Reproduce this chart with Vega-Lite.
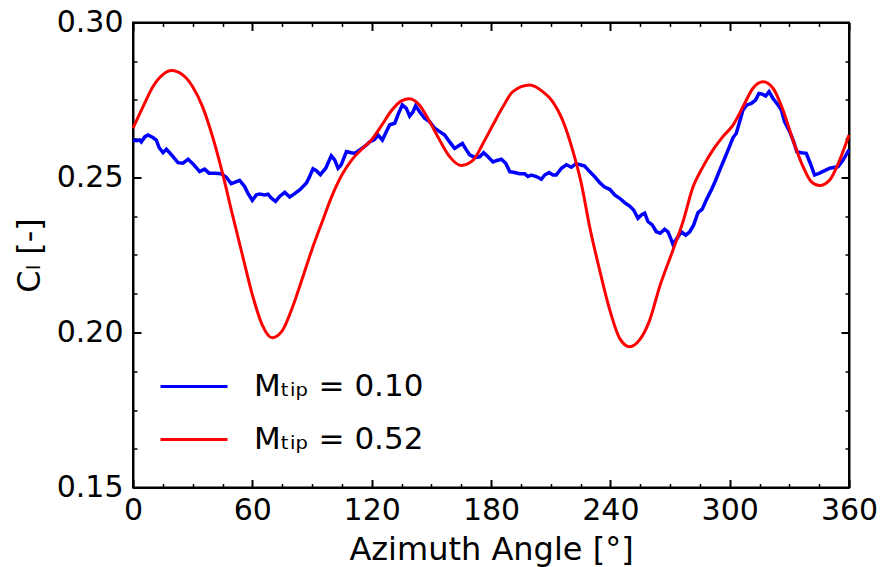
{
  "$schema": "https://vega.github.io/schema/vega-lite/v6.json",
  "width": 716,
  "height": 465,
  "autosize": {"type": "none"},
  "padding": {"left": 133, "top": 22.5, "right": 33, "bottom": 79},
  "config": {
    "font": "DejaVu Sans",
    "view": {"stroke": "black", "strokeWidth": 2},
    "axis": {
      "domainColor": "black", "domainWidth": 2, "tickColor": "black",
      "labelColor": "black", "titleColor": "black", "labelFontSize": 30,
      "titleFontSize": 32, "titleFontWeight": "normal", "grid": false,
      "labelFlush": false, "labelOverlap": false, "labelFont": "DejaVu Sans", "titleFont": "DejaVu Sans"
    }
  },
  "datasets": {
    "blue": [
      {"s":"0.10","x":0,"y":0.2621},{"s":"0.10","x":1.7,"y":0.2619},{"s":"0.10","x":3.4,"y":0.2621},{"s":"0.10","x":4.2,"y":0.2615},{"s":"0.10","x":5.9,"y":0.2631},{"s":"0.10","x":7.5,"y":0.2637},{"s":"0.10","x":10,"y":0.2629},{"s":"0.10","x":11.7,"y":0.2621},{"s":"0.10","x":13.1,"y":0.2597},{"s":"0.10","x":15.1,"y":0.258},{"s":"0.10","x":16.8,"y":0.2591},{"s":"0.10","x":18.4,"y":0.258},{"s":"0.10","x":20.1,"y":0.2567},{"s":"0.10","x":22.6,"y":0.2548},{"s":"0.10","x":25.1,"y":0.2546},{"s":"0.10","x":27.7,"y":0.2559},{"s":"0.10","x":30.2,"y":0.2544},{"s":"0.10","x":33.5,"y":0.2519},{"s":"0.10","x":36,"y":0.2527},{"s":"0.10","x":38.2,"y":0.2514},{"s":"0.10","x":41.1,"y":0.2514},{"s":"0.10","x":44.4,"y":0.2512},{"s":"0.10","x":46.9,"y":0.2501},{"s":"0.10","x":49.4,"y":0.248},{"s":"0.10","x":51.1,"y":0.2484},{"s":"0.10","x":53.6,"y":0.2491},{"s":"0.10","x":56.1,"y":0.2471},{"s":"0.10","x":57.8,"y":0.2449},{"s":"0.10","x":60,"y":0.2426},{"s":"0.10","x":62,"y":0.2444},{"s":"0.10","x":63.7,"y":0.2447},{"s":"0.10","x":66.2,"y":0.2444},{"s":"0.10","x":67.9,"y":0.2446},{"s":"0.10","x":69.6,"y":0.2433},{"s":"0.10","x":71.7,"y":0.2423},{"s":"0.10","x":73.7,"y":0.2439},{"s":"0.10","x":76.3,"y":0.2452},{"s":"0.10","x":78.8,"y":0.2437},{"s":"0.10","x":80.4,"y":0.2444},{"s":"0.10","x":83.8,"y":0.246},{"s":"0.10","x":87.2,"y":0.2482},{"s":"0.10","x":88.8,"y":0.2503},{"s":"0.10","x":90.5,"y":0.2528},{"s":"0.10","x":92.2,"y":0.2522},{"s":"0.10","x":94.2,"y":0.2509},{"s":"0.10","x":96.9,"y":0.253},{"s":"0.10","x":99.7,"y":0.257},{"s":"0.10","x":101.4,"y":0.2557},{"s":"0.10","x":103.1,"y":0.253},{"s":"0.10","x":104.7,"y":0.2541},{"s":"0.10","x":107.3,"y":0.2584},{"s":"0.10","x":109.8,"y":0.258},{"s":"0.10","x":111.5,"y":0.2578},{"s":"0.10","x":114,"y":0.2589},{"s":"0.10","x":116.5,"y":0.26},{"s":"0.10","x":119,"y":0.2615},{"s":"0.10","x":121.5,"y":0.2623},{"s":"0.10","x":123.2,"y":0.2637},{"s":"0.10","x":125.4,"y":0.2621},{"s":"0.10","x":127.4,"y":0.2648},{"s":"0.10","x":129.1,"y":0.267},{"s":"0.10","x":131.6,"y":0.2675},{"s":"0.10","x":133.2,"y":0.2702},{"s":"0.10","x":135.4,"y":0.2734},{"s":"0.10","x":137.4,"y":0.2723},{"s":"0.10","x":139.1,"y":0.2698},{"s":"0.10","x":140.8,"y":0.2712},{"s":"0.10","x":142.1,"y":0.2731},{"s":"0.10","x":144.1,"y":0.2712},{"s":"0.10","x":146.6,"y":0.2691},{"s":"0.10","x":149.2,"y":0.268},{"s":"0.10","x":151.7,"y":0.2659},{"s":"0.10","x":154.2,"y":0.2648},{"s":"0.10","x":156.7,"y":0.2637},{"s":"0.10","x":159.2,"y":0.2615},{"s":"0.10","x":161.7,"y":0.2594},{"s":"0.10","x":163.4,"y":0.2601},{"s":"0.10","x":165.6,"y":0.261},{"s":"0.10","x":167.6,"y":0.2589},{"s":"0.10","x":169.3,"y":0.2573},{"s":"0.10","x":171.8,"y":0.2565},{"s":"0.10","x":174.3,"y":0.2567},{"s":"0.10","x":176.3,"y":0.258},{"s":"0.10","x":178.5,"y":0.2567},{"s":"0.10","x":181,"y":0.255},{"s":"0.10","x":183,"y":0.2555},{"s":"0.10","x":185.2,"y":0.2559},{"s":"0.10","x":187.4,"y":0.2546},{"s":"0.10","x":189.4,"y":0.2519},{"s":"0.10","x":191.9,"y":0.2516},{"s":"0.10","x":194.4,"y":0.2512},{"s":"0.10","x":196.9,"y":0.2512},{"s":"0.10","x":198.6,"y":0.2503},{"s":"0.10","x":200.3,"y":0.2508},{"s":"0.10","x":202.8,"y":0.2503},{"s":"0.10","x":205.3,"y":0.2494},{"s":"0.10","x":207,"y":0.2508},{"s":"0.10","x":209.2,"y":0.2516},{"s":"0.10","x":211.2,"y":0.2508},{"s":"0.10","x":212.8,"y":0.2508},{"s":"0.10","x":215.4,"y":0.253},{"s":"0.10","x":217.9,"y":0.2541},{"s":"0.10","x":220.4,"y":0.2533},{"s":"0.10","x":222.6,"y":0.2544},{"s":"0.10","x":224.9,"y":0.2541},{"s":"0.10","x":227.1,"y":0.2537},{"s":"0.10","x":229.6,"y":0.2519},{"s":"0.10","x":232.1,"y":0.2503},{"s":"0.10","x":234.6,"y":0.2484},{"s":"0.10","x":237.1,"y":0.2469},{"s":"0.10","x":239.7,"y":0.2462},{"s":"0.10","x":242.2,"y":0.2444},{"s":"0.10","x":244.7,"y":0.2433},{"s":"0.10","x":247.2,"y":0.2419},{"s":"0.10","x":249.7,"y":0.2408},{"s":"0.10","x":251.7,"y":0.2395},{"s":"0.10","x":253.9,"y":0.2368},{"s":"0.10","x":255.6,"y":0.2379},{"s":"0.10","x":257.3,"y":0.2385},{"s":"0.10","x":258.9,"y":0.2358},{"s":"0.10","x":261.1,"y":0.2347},{"s":"0.10","x":263.1,"y":0.2325},{"s":"0.10","x":265.1,"y":0.232},{"s":"0.10","x":267.3,"y":0.2333},{"s":"0.10","x":269,"y":0.2325},{"s":"0.10","x":270.7,"y":0.2298},{"s":"0.10","x":271.5,"y":0.2284},{"s":"0.10","x":273.2,"y":0.2301},{"s":"0.10","x":275.7,"y":0.2325},{"s":"0.10","x":277.9,"y":0.2314},{"s":"0.10","x":279.9,"y":0.2325},{"s":"0.10","x":281.9,"y":0.2347},{"s":"0.10","x":284.1,"y":0.2387},{"s":"0.10","x":286.2,"y":0.2398},{"s":"0.10","x":288.3,"y":0.2428},{"s":"0.10","x":290.8,"y":0.246},{"s":"0.10","x":293,"y":0.2492},{"s":"0.10","x":295,"y":0.2524},{"s":"0.10","x":297.5,"y":0.2562},{"s":"0.10","x":300,"y":0.2601},{"s":"0.10","x":301.7,"y":0.2629},{"s":"0.10","x":303.3,"y":0.2642},{"s":"0.10","x":305,"y":0.268},{"s":"0.10","x":306.7,"y":0.2718},{"s":"0.10","x":308.7,"y":0.2734},{"s":"0.10","x":310.9,"y":0.2739},{"s":"0.10","x":313,"y":0.275},{"s":"0.10","x":314.7,"y":0.2771},{"s":"0.10","x":316.4,"y":0.2769},{"s":"0.10","x":318.1,"y":0.2763},{"s":"0.10","x":319.8,"y":0.2777},{"s":"0.10","x":321.8,"y":0.2755},{"s":"0.10","x":324.3,"y":0.2734},{"s":"0.10","x":326,"y":0.2718},{"s":"0.10","x":327.6,"y":0.268},{"s":"0.10","x":330.2,"y":0.2648},{"s":"0.10","x":332.2,"y":0.2615},{"s":"0.10","x":333.8,"y":0.2583},{"s":"0.10","x":336,"y":0.258},{"s":"0.10","x":338.5,"y":0.2578},{"s":"0.10","x":340.5,"y":0.2546},{"s":"0.10","x":342.7,"y":0.2508},{"s":"0.10","x":345.2,"y":0.2514},{"s":"0.10","x":347.8,"y":0.2522},{"s":"0.10","x":350.3,"y":0.253},{"s":"0.10","x":352.8,"y":0.2533},{"s":"0.10","x":354.5,"y":0.2535},{"s":"0.10","x":357,"y":0.2556},{"s":"0.10","x":360,"y":0.2589}
    ],
    "red": [
      {"s":"0.52","x":0,"y":0.2659},{"s":"0.52","x":5,"y":0.2728},{"s":"0.52","x":10,"y":0.2793},{"s":"0.52","x":15,"y":0.2832},{"s":"0.52","x":19.3,"y":0.2845},{"s":"0.52","x":25,"y":0.2831},{"s":"0.52","x":30,"y":0.2793},{"s":"0.52","x":35,"y":0.2728},{"s":"0.52","x":40,"y":0.2632},{"s":"0.52","x":45,"y":0.2514},{"s":"0.52","x":50,"y":0.238},{"s":"0.52","x":55,"y":0.225},{"s":"0.52","x":60,"y":0.2122},{"s":"0.52","x":65,"y":0.2024},{"s":"0.52","x":70,"y":0.1983},{"s":"0.52","x":75,"y":0.2005},{"s":"0.52","x":80,"y":0.2078},{"s":"0.52","x":85,"y":0.2172},{"s":"0.52","x":90,"y":0.2268},{"s":"0.52","x":95,"y":0.2355},{"s":"0.52","x":100,"y":0.244},{"s":"0.52","x":105,"y":0.2508},{"s":"0.52","x":110,"y":0.2557},{"s":"0.52","x":115,"y":0.2591},{"s":"0.52","x":120,"y":0.2622},{"s":"0.52","x":125,"y":0.2668},{"s":"0.52","x":130,"y":0.2716},{"s":"0.52","x":135,"y":0.2747},{"s":"0.52","x":139,"y":0.2754},{"s":"0.52","x":144,"y":0.2734},{"s":"0.52","x":149,"y":0.2682},{"s":"0.52","x":154,"y":0.2623},{"s":"0.52","x":159,"y":0.2569},{"s":"0.52","x":165,"y":0.2539},{"s":"0.52","x":171,"y":0.2556},{"s":"0.52","x":176,"y":0.261},{"s":"0.52","x":181,"y":0.267},{"s":"0.52","x":186,"y":0.2728},{"s":"0.52","x":191,"y":0.2777},{"s":"0.52","x":199.4,"y":0.2798},{"s":"0.52","x":206,"y":0.2777},{"s":"0.52","x":211,"y":0.2745},{"s":"0.52","x":216,"y":0.2685},{"s":"0.52","x":221,"y":0.2589},{"s":"0.52","x":225.4,"y":0.2481},{"s":"0.52","x":229.6,"y":0.2341},{"s":"0.52","x":234.6,"y":0.2202},{"s":"0.52","x":239.7,"y":0.2073},{"s":"0.52","x":244.7,"y":0.1981},{"s":"0.52","x":249.7,"y":0.1954},{"s":"0.52","x":254.7,"y":0.1976},{"s":"0.52","x":259.8,"y":0.204},{"s":"0.52","x":264.8,"y":0.2148},{"s":"0.52","x":271.5,"y":0.2266},{"s":"0.52","x":276.5,"y":0.2357},{"s":"0.52","x":281.6,"y":0.247},{"s":"0.52","x":286.6,"y":0.2535},{"s":"0.52","x":291.6,"y":0.2589},{"s":"0.52","x":296.6,"y":0.2632},{"s":"0.52","x":301.7,"y":0.2669},{"s":"0.52","x":306.7,"y":0.2728},{"s":"0.52","x":311.7,"y":0.2788},{"s":"0.52","x":316.8,"y":0.2809},{"s":"0.52","x":321.8,"y":0.2788},{"s":"0.52","x":326.8,"y":0.2718},{"s":"0.52","x":331.8,"y":0.2621},{"s":"0.52","x":336.9,"y":0.2535},{"s":"0.52","x":341.1,"y":0.2486},{"s":"0.52","x":345.2,"y":0.2474},{"s":"0.52","x":350.3,"y":0.2492},{"s":"0.52","x":355.3,"y":0.2556},{"s":"0.52","x":360,"y":0.2637}
    ]
  },
  "layer": [
    {
      "data": {"name": "blue"},
      "mark": {"type": "line", "strokeWidth": 3.5, "interpolate": "linear"},
      "encoding": {
        "x": {
          "field": "x", "type": "quantitative",
          "scale": {"domain": [0, 360], "nice": false},
          "axis": {
            "orient": "bottom", "title": "Azimuth Angle [°]", "format": "d",
            "values": [0,15,30,45,60,75,90,105,120,135,150,165,180,195,210,225,240,255,270,285,300,315,330,345,360],
            "labelExpr": "datum.value % 60 === 0 ? datum.label : ''",
            "tickSize": {"condition": {"test": "datum.value % 60 === 0", "value": -8}, "value": -4},
            "tickWidth": {"condition": {"test": "datum.value % 60 === 0", "value": 2}, "value": 1.5},
            "labelPadding": 16, "titlePadding": 5
          }
        },
        "y": {
          "field": "y", "type": "quantitative",
          "scale": {"domain": [0.15, 0.30], "nice": false, "zero": false},
          "axis": {
            "orient": "left", "title": "Cₗ [-]", "format": ".2f",
            "values": [0.15,0.1625,0.175,0.1875,0.2,0.2125,0.225,0.2375,0.25,0.2625,0.275,0.2875,0.3],
            "labelExpr": "abs(round(datum.value*20) - datum.value*20) < 0.001 ? datum.label : ''",
            "tickSize": {"condition": {"test": "abs(round(datum.value*20) - datum.value*20) < 0.001", "value": -8}, "value": -4},
            "tickWidth": {"condition": {"test": "abs(round(datum.value*20) - datum.value*20) < 0.001", "value": 2}, "value": 1.5},
            "labelPadding": 18, "titlePadding": 10
          }
        },
        "color": {
          "field": "s", "type": "nominal",
          "scale": {"domain": ["0.10", "0.52"], "range": ["#0000ff", "#ff0000"]},
          "legend": {
            "orient": "none", "legendX": 26, "legendY": 329, "title": null,
            "labelExpr": "'Mₜᵢₚ = ' + datum.label", "labelLimit": 0,
            "labelFontSize": 31, "labelFont": "DejaVu Sans", "labelColor": "black",
            "symbolSize": 4489, "symbolStrokeWidth": 3, "symbolType": "stroke",
            "labelOffset": 25, "rowPadding": 3, "padding": 0
          }
        }
      }
    },
    {
      "data": {"name": "red"},
      "mark": {"type": "line", "strokeWidth": 3, "interpolate": "monotone"},
      "encoding": {
        "x": {
          "field": "x", "type": "quantitative",
          "scale": {"domain": [0, 360], "nice": false},
          "axis": {
            "orient": "top", "title": null, "labels": false,
            "values": [0,15,30,45,60,75,90,105,120,135,150,165,180,195,210,225,240,255,270,285,300,315,330,345,360],
            "tickSize": {"condition": {"test": "datum.value % 60 === 0", "value": -8}, "value": -4},
            "tickWidth": {"condition": {"test": "datum.value % 60 === 0", "value": 2}, "value": 1.5}
          }
        },
        "y": {
          "field": "y", "type": "quantitative",
          "scale": {"domain": [0.15, 0.30], "nice": false, "zero": false},
          "axis": {
            "orient": "right", "title": null, "labels": false,
            "values": [0.15,0.1625,0.175,0.1875,0.2,0.2125,0.225,0.2375,0.25,0.2625,0.275,0.2875,0.3],
            "tickSize": {"condition": {"test": "abs(round(datum.value*20) - datum.value*20) < 0.001", "value": -8}, "value": -4},
            "tickWidth": {"condition": {"test": "abs(round(datum.value*20) - datum.value*20) < 0.001", "value": 2}, "value": 1.5}
          }
        },
        "color": {"field": "s", "type": "nominal", "scale": {"domain": ["0.10", "0.52"], "range": ["#0000ff", "#ff0000"]}}
      }
    }
  ],
  "resolve": {"axis": {"x": "independent", "y": "independent"}}
}
